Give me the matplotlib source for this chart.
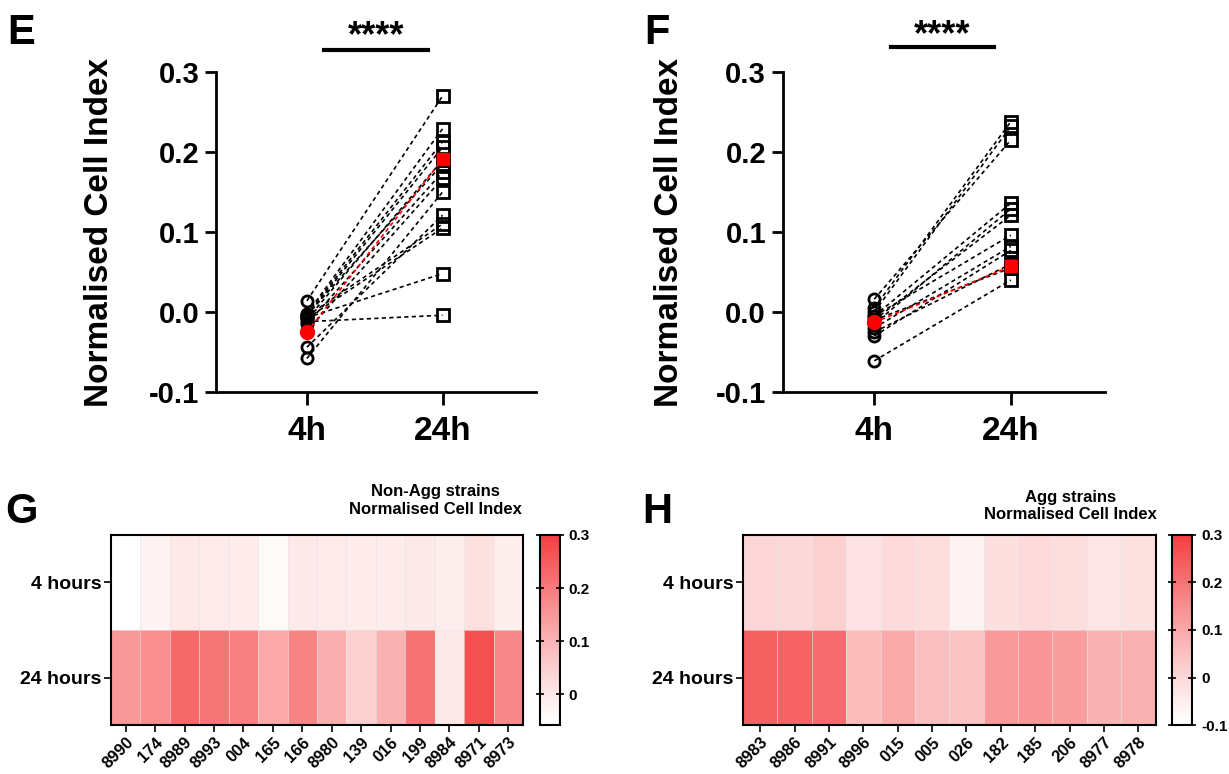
import numpy as np
import matplotlib.pyplot as plt
from matplotlib.colors import LinearSegmentedColormap, Normalize

plt.rcParams["font.family"] = ["Liberation Sans", "DejaVu Sans"]
plt.rcParams["font.weight"] = "bold"

########################################################
# data
timepoints = ["4h", "24h"]
row_labels = ["4 hours", "24 hours"]

# non-aggregative strains (panel E / G)
nonagg_strains = ["8990", "174", "8989", "8993", "004", "165", "166",
                  "8980", "139", "016", "199", "8984", "8971", "8973"]
nonagg_4h = [-0.058, -0.024, -0.002, -0.005, -0.009, -0.044, -0.004,
             -0.005, -0.007, -0.008, -0.003, -0.012, 0.014, -0.015]
nonagg_24h = [0.150, 0.167, 0.229, 0.206, 0.190, 0.121, 0.185,
              0.110, 0.048, 0.105, 0.213, -0.004, 0.270, 0.175]
nonagg_ref = [-0.025, 0.191]

# aggregative strains (panel F / H)
agg_strains = ["8983", "8986", "8991", "8996", "015", "005", "026",
               "182", "185", "206", "8977", "8978"]
agg_4h = [0.005, 0.000, 0.016, -0.025, -0.005, -0.010, -0.061,
          -0.015, -0.005, -0.010, -0.030, -0.020]
agg_24h = [0.238, 0.232, 0.215, 0.060, 0.096, 0.055, 0.040,
           0.129, 0.136, 0.121, 0.077, 0.082]
agg_ref = [-0.013, 0.057]

yticks = [-0.1, 0.0, 0.1, 0.2, 0.3]
########################################################

fig = plt.figure(figsize=(12.29, 7.74), dpi=100)

reds = LinearSegmentedColormap.from_list("wr", ["#FFFFFF", "#F33E40"], gamma=1.15)


def paired_plot(ax, y4, y24, ref, label_x):
    for a, b in zip(y4, y24):
        ax.plot([0, 1], [a, b], color="black", ls=(0, (2.5, 2)), lw=1.2, zorder=2)
    ax.plot([0, 1], ref, color="red", ls=(0, (2.5, 2)), lw=1.2, zorder=4)
    ax.plot(np.zeros(len(y4)), y4, "o", mfc="none", mec="black", mew=2,
            ms=8, zorder=3)
    ax.plot(np.ones(len(y24)), y24, "s", mfc="none", mec="black", mew=2,
            ms=8, zorder=3)
    ax.plot(0, ref[0], "o", color="red", ms=10, zorder=5)
    ax.plot(1, ref[1], "s", color="red", ms=9, zorder=5)

    ax.set_xlim(-0.67, 1.69)
    ax.set_ylim(-0.1, 0.3)
    ax.set_xticks([0, 1])
    ax.set_xticklabels(timepoints, fontsize=24, fontweight="bold")
    ax.set_yticks(yticks)
    ax.set_yticklabels([f"{v:.1f}" for v in yticks], fontsize=21,
                       fontweight="bold")
    for s in ["top", "right"]:
        ax.spines[s].set_visible(False)
    for s in ["left", "bottom"]:
        ax.spines[s].set_linewidth(2)
    ax.tick_params(axis="x", length=9, width=2, pad=8)
    ax.tick_params(axis="y", length=8, width=2, pad=4)
    ax.set_ylabel("Normalised Cell Index", fontsize=24, fontweight="bold")
    ax.yaxis.set_label_coords(label_x, 0.5)


def heatmap(ax, cax, strains, y4, y24, vmin, cticks, clabels):
    data = np.array([y4, y24])
    mesh = ax.pcolormesh(data, cmap=reds, norm=Normalize(vmin, 0.3),
                         edgecolors=(0.9, 0.9, 0.9, 0.6), linewidth=0.6)
    ax.set_xlim(0, len(strains))
    ax.set_ylim(2, 0)
    ax.set_xticks(np.arange(len(strains)) + 0.5)
    ax.set_xticklabels(strains, rotation=45, ha="right", va="top",
                       rotation_mode="anchor", fontsize=12, fontweight="bold")
    ax.set_yticks([0.5, 1.5])
    ax.set_yticklabels(row_labels, fontsize=14, fontweight="bold")
    ax.tick_params(axis="both", length=5, width=1.2, pad=2)
    for s in ax.spines.values():
        s.set_linewidth(1.5)
    cb = fig.colorbar(mesh, cax=cax, ticks=cticks)
    cb.set_ticklabels(clabels)
    cb.outline.set_linewidth(1.5)
    cax.tick_params(left=True, direction="inout", length=6, width=1.2,
                    labelsize=11)
    return mesh


# panel E
axE = fig.add_axes([0.1758, 0.4935, 0.2604, 0.4134])
paired_plot(axE, nonagg_4h, nonagg_24h, nonagg_ref, -0.316)
axE.plot([0.127, 0.89], [0.3275, 0.3275], color="black", lw=3, clip_on=False)
axE.text(0.51, 0.3325, "****", ha="center", va="baseline", fontsize=26,
         fontweight="bold")

# panel F
axF = fig.add_axes([0.6369, 0.4935, 0.2622, 0.4134])
paired_plot(axF, agg_4h, agg_24h, agg_ref, -0.303)
axF.plot([0.123, 0.88], [0.3316, 0.3316], color="black", lw=3, clip_on=False)
axF.text(0.50, 0.3338, "****", ha="center", va="baseline", fontsize=26,
         fontweight="bold")

# panel G
axG = fig.add_axes([0.0903, 0.0633, 0.3352, 0.2455])
caxG = fig.add_axes([0.4394, 0.0633, 0.0159, 0.2455])
heatmap(axG, caxG, nonagg_strains, nonagg_4h, nonagg_24h,
        min(nonagg_4h), [0, 0.1, 0.2, 0.3], ["0", "0.1", "0.2", "0.3"])
fig.text(0.3539, 0.3534, "Non-Agg strains\nNormalised Cell Index",
         ha="center", va="center", fontsize=12, fontweight="bold",
         linespacing=1.2)

# panel H
axH = fig.add_axes([0.6046, 0.0633, 0.3356, 0.2455])
caxH = fig.add_axes([0.9536, 0.0633, 0.0163, 0.2455])
heatmap(axH, caxH, agg_strains, agg_4h, agg_24h,
        -0.1, [-0.1, 0, 0.1, 0.2, 0.3], ["-0.1", "0", "0.1", "0.2", "0.3"])
fig.text(0.8712, 0.3463, "Agg strains\nNormalised Cell Index",
         ha="center", va="center", fontsize=12, fontweight="bold",
         linespacing=1.2)

# panel letters
for x, y, s in [(0.006, 0.9428, "E"), (0.524, 0.9428, "F"),
                (0.004, 0.3243, "G"), (0.5227, 0.3243, "H")]:
    fig.text(x, y, s, fontsize=30, fontweight="bold", va="baseline")

plt.savefig("out.png", dpi=100)
